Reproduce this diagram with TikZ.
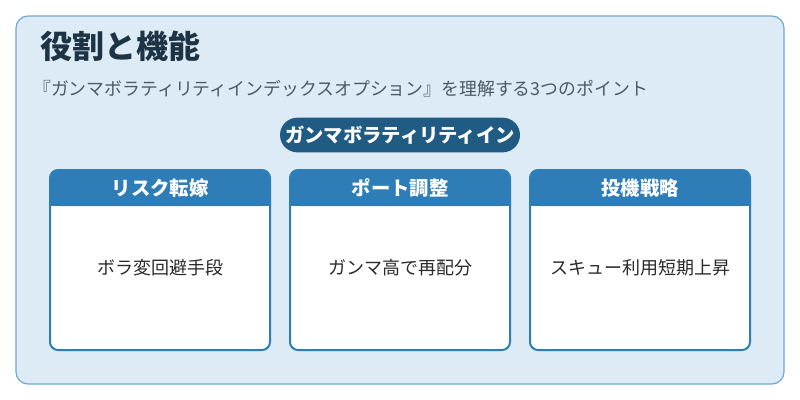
\documentclass[tikz,border=0pt]{standalone}
\usepackage{fontspec}
\setmainfont{Noto Sans CJK JP}
\usetikzlibrary{positioning}
\definecolor{panelbg}{HTML}{DDEBF6}
\definecolor{panelline}{HTML}{6EA9D2}
\definecolor{titleink}{HTML}{1E3445}
\definecolor{subink}{HTML}{4C5A66}
\definecolor{pillblue}{HTML}{1F5B82}
\definecolor{headblue}{HTML}{2E7DB6}
\definecolor{bodyink}{HTML}{2A2A2A}
\tikzset{
  headtext/.style={text=white, font=\bfseries\fontsize{14.5}{17}\selectfont},
  bodybox/.style={draw=headblue, line width=1.5pt, fill=white, rounded corners=6pt, minimum width=165pt, minimum height=135pt},
  bodytext/.style={text=bodyink, font=\fontsize{13.5}{16}\selectfont}
}
\begin{document}
\begin{tikzpicture}[x=0.75pt,y=-0.75pt]
\useasboundingbox (0,0) rectangle (800,400);
% panel
\draw[fill=panelbg, draw=panelline, line width=0.9pt, rounded corners=9pt] (16,16) rectangle (784,384);
% title and subtitle
\node[anchor=west, inner sep=0pt, text=titleink, font=\bfseries\fontsize{24}{28}\selectfont] (title) at (40,46) {役割と機能};
\node[anchor=west, inner sep=0pt, text=subink, font=\fontsize{13.4}{16}\selectfont] (sub) at (33,89) {『ガンマボラティリティインデックスオプション』を理解する3つのポイント};
% pill
\node[fill=pillblue, rounded corners=13pt, minimum width=180pt, minimum height=26pt, inner xsep=1pt, text=white, font=\bfseries\fontsize{14.5}{17}\selectfont] (pill) at (400,135) {ガンマボラティリティイン};
% boxes
\node[bodybox] (b1) at (160,260) {};
\node[bodybox] (b2) at (400,260) {};
\node[bodybox] (b3) at (640,260) {};
\fill[headblue, rounded corners=6pt] (50,170) rectangle (270,206);
\fill[headblue, rounded corners=6pt] (290,170) rectangle (510,206);
\fill[headblue, rounded corners=6pt] (530,170) rectangle (750,206);
\fill[headblue] (50,195) rectangle (270,206);
\fill[headblue] (290,195) rectangle (510,206);
\fill[headblue] (530,195) rectangle (750,206);
\node[headtext] (h1) at (160,188) {リスク転嫁};
\node[headtext] (h2) at (400,188) {ポート調整};
\node[headtext] (h3) at (640,188) {投機戦略};
\node[bodytext] (t1) at (160,268) {ボラ変回避手段};
\node[bodytext] (t2) at (400,268) {ガンマ高で再配分};
\node[bodytext] (t3) at (640,268) {スキュー利用短期上昇};
\end{tikzpicture}
\end{document}
